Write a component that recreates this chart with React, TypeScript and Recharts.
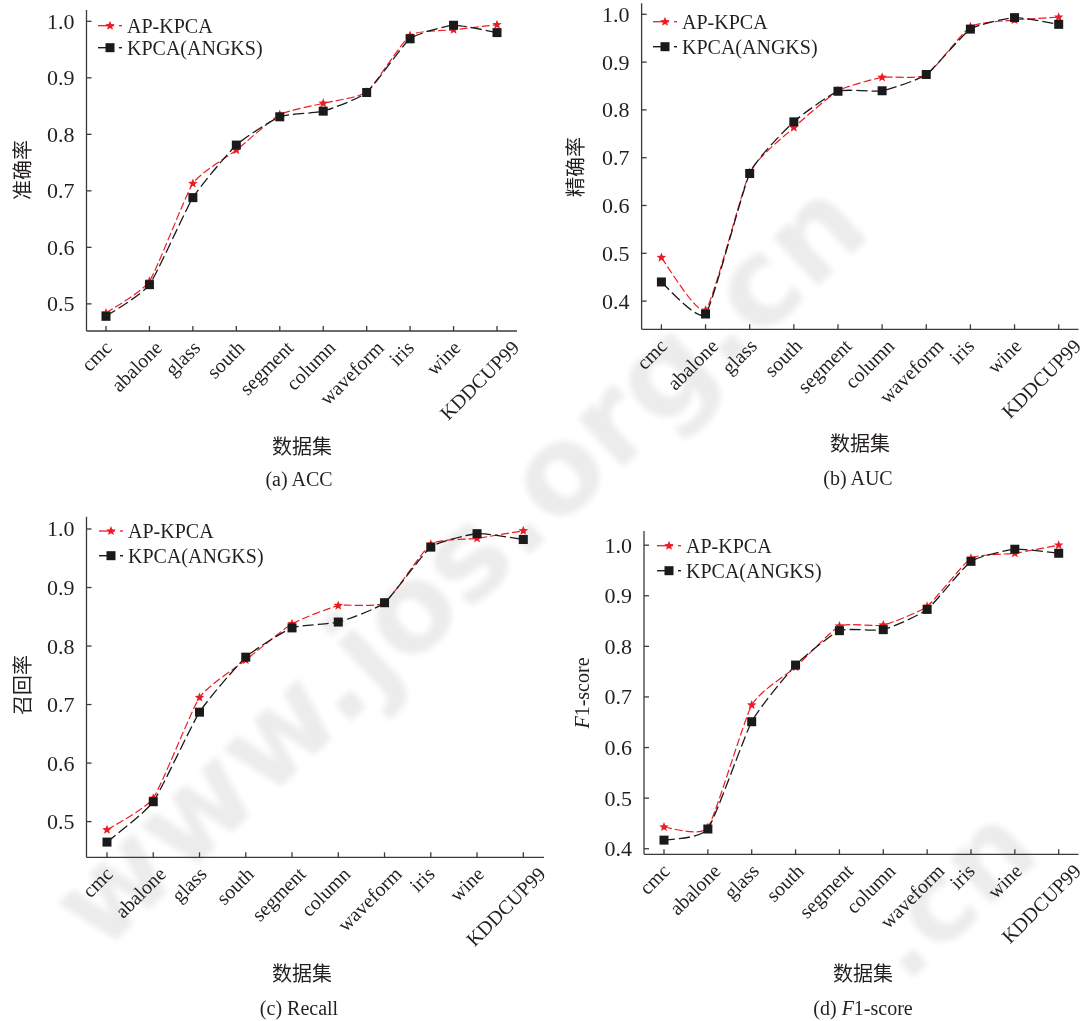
import React from "react";
import { LineChart, Line, XAxis, YAxis } from "recharts";

const datasets = ["cmc", "abalone", "glass", "south", "segment", "column", "waveform", "iris", "wine", "KDDCUP99"];

const accAp = [0.484, 0.54, 0.713, 0.772, 0.835, 0.855, 0.875, 0.975, 0.985, 0.994];
const accKpca = [0.478, 0.534, 0.688, 0.781, 0.831, 0.841, 0.874, 0.969, 0.993, 0.98];
const aucAp = [0.491, 0.381, 0.669, 0.763, 0.84, 0.868, 0.873, 0.974, 0.988, 0.994];
const aucKpca = [0.44, 0.373, 0.667, 0.775, 0.839, 0.84, 0.874, 0.969, 0.993, 0.979];
const recAp = [0.486, 0.54, 0.712, 0.776, 0.838, 0.869, 0.874, 0.974, 0.984, 0.997];
const recKpca = [0.465, 0.534, 0.687, 0.781, 0.831, 0.841, 0.874, 0.969, 0.992, 0.982];
const f1Ap = [0.443, 0.442, 0.684, 0.759, 0.84, 0.842, 0.879, 0.974, 0.984, 1.0];
const f1Kpca = [0.417, 0.439, 0.651, 0.763, 0.831, 0.833, 0.873, 0.968, 0.992, 0.984];

const ticksHigh = [0.5, 0.6, 0.7, 0.8, 0.9, 1.0];
const ticksLow = [0.4, 0.5, 0.6, 0.7, 0.8, 0.9, 1.0];

const seriesNames = ["AP-KPCA", "KPCA(ANGKS)"];
const watermarkParts = ["www.", "jos.", "org.", "cn"];

const RED = "#ed1c24";
const INK = "#231f20";
const AXIS = "#3b3b3b";
const SERIF = "'Liberation Serif', 'Times New Roman', 'Noto Sans CJK SC', serif";
const CJK = "'Noto Sans CJK SC', 'Liberation Serif', serif";
const WM_FONT = "'DejaVu Sans', sans-serif";

// mild catmull-rom smoothing (the original uses a spline connector)
const SMOOTH = 0.5;
const splineCurve = (context: any) => {
  let pts: number[][] = [];
  return {
    areaStart() {},
    areaEnd() {},
    lineStart() {
      pts = [];
    },
    point(x: number, y: number) {
      pts.push([+x, +y]);
    },
    lineEnd() {
      if (!pts.length) return;
      context.moveTo(pts[0][0], pts[0][1]);
      const k = SMOOTH / 6;
      for (let i = 0; i < pts.length - 1; i++) {
        const p0 = pts[i - 1] || pts[i];
        const p1 = pts[i];
        const p2 = pts[i + 1];
        const p3 = pts[i + 2] || p2;
        context.bezierCurveTo(
          p1[0] + (p2[0] - p0[0]) * k,
          p1[1] + (p2[1] - p0[1]) * k,
          p2[0] - (p3[0] - p1[0]) * k,
          p2[1] - (p3[1] - p1[1]) * k,
          p2[0],
          p2[1]
        );
      }
    },
  };
};

let ctx2d: CanvasRenderingContext2D | null = null;
function textWidth(s: string, font: string, fallback: number) {
  if (!ctx2d) ctx2d = document.createElement("canvas").getContext("2d");
  if (!ctx2d) return s.length * fallback;
  ctx2d.font = font;
  return ctx2d.measureText(s).width;
}

function starPoints(cx: number, cy: number, R: number, r: number) {
  const pts: string[] = [];
  for (let i = 0; i < 10; i++) {
    const rad = i % 2 === 0 ? R : r;
    const a = -Math.PI / 2 + (i * Math.PI) / 5;
    pts.push(`${cx + rad * Math.cos(a)},${cy + rad * Math.sin(a)}`);
  }
  return pts.join(" ");
}

const StarDot = (p: any) => {
  if (p.cx == null || p.cy == null) return <g key={p.index} />;
  return <polygon key={p.index} points={starPoints(p.cx, p.cy, 5, 2.2)} fill={RED} stroke="none" />;
};

const SquareDot = (p: any) => {
  if (p.cx == null || p.cy == null) return <g key={p.index} />;
  return <rect key={p.index} x={p.cx - 4.5} y={p.cy - 4.5} width={9} height={9} fill="#1a1a1a" stroke="none" />;
};

const YTick = (p: any) => (
  <g>
    <line x1={p.x} y1={p.y} x2={p.x + 5} y2={p.y} stroke={AXIS} strokeWidth={1.3} />
    <text x={p.x - 12} y={p.y} textAnchor="end" dominantBaseline="central" fontFamily={SERIF} fontSize={22} fill={INK}>
      {Number(p.payload.value).toFixed(1)}
    </text>
  </g>
);

const XTick = (p: any) => {
  const label = String(p.payload.value);
  const bx = p.x - 1 + 0.24 * textWidth(label, '20px "Liberation Serif"', 10);
  const by = p.y + 18;
  return (
    <g>
      <line x1={p.x} y1={p.y} x2={p.x} y2={p.y - 5} stroke={AXIS} strokeWidth={1.3} />
      <text x={bx} y={by} textAnchor="end" fontFamily={SERIF} fontSize={20} fill={INK} transform={`rotate(-45 ${bx} ${by})`}>
        {label}
      </text>
    </g>
  );
};

type PanelProps = {
  left: number;
  top: number;
  width: number;
  height: number;
  plot: { l: number; r: number; t: number; b: number };
  domain: [number, number];
  ticks: number[];
  ap: number[];
  kp: number[];
  pad: { left: number; right: number };
};

function Panel({ left, top, width, height, plot, domain, ticks, ap, kp, pad }: PanelProps) {
  const rows = datasets.map((name, i) => ({ name, ap: ap[i], kp: kp[i] }));
  return (
    <div style={{ position: "absolute", left, top, width, height }}>
      <LineChart
        width={width}
        height={height}
        data={rows}
        margin={{ top: plot.t, right: width - plot.r, bottom: 0, left: 0 }}
      >
        <XAxis
          dataKey="name"
          interval={0}
          height={height - plot.b}
          padding={pad}
          tickLine={false}
          tickSize={0}
          tickMargin={0}
          axisLine={{ stroke: AXIS, strokeWidth: 1.3 }}
          tick={XTick}
        />
        <YAxis
          type="number"
          width={plot.l}
          domain={domain}
          ticks={ticks}
          allowDataOverflow
          tickLine={false}
          tickSize={0}
          tickMargin={0}
          axisLine={{ stroke: AXIS, strokeWidth: 1.3 }}
          tick={YTick}
        />
        <Line
          type={splineCurve as any}
          dataKey="ap"
          stroke={RED}
          strokeWidth={1.2}
          strokeDasharray="8 3"
          dot={StarDot}
          activeDot={false}
          isAnimationActive={false}
        />
        <Line
          type={splineCurve as any}
          dataKey="kp"
          stroke="#1a1a1a"
          strokeWidth={1.3}
          strokeDasharray="11 4"
          dot={SquareDot}
          activeDot={false}
          isAnimationActive={false}
        />
      </LineChart>
    </div>
  );
}

function LegendBox({ x, y1, y2 }: { x: number; y1: number; y2: number }) {
  return (
    <g>
      <line x1={x} y1={y1} x2={x + 16} y2={y1} stroke={RED} strokeWidth={1.3} />
      <line x1={x + 21} y1={y1} x2={x + 24} y2={y1} stroke={RED} strokeWidth={1.3} />
      <polygon points={starPoints(x + 12, y1, 5, 2.2)} fill={RED} />
      <text x={x + 29} y={y1} dominantBaseline="central" fontFamily={SERIF} fontSize={20} fill={INK}>
        {seriesNames[0]}
      </text>
      <line x1={x} y1={y2} x2={x + 16} y2={y2} stroke="#1a1a1a" strokeWidth={1.4} />
      <line x1={x + 21} y1={y2} x2={x + 24} y2={y2} stroke="#1a1a1a" strokeWidth={1.4} />
      <rect x={x + 7.5} y={y2 - 4.5} width={9} height={9} fill="#1a1a1a" />
      <text x={x + 29} y={y2} dominantBaseline="central" fontFamily={SERIF} fontSize={20} fill={INK}>
        {seriesNames[1]}
      </text>
    </g>
  );
}

// faint diagonal watermark, split in pieces that each stay inside the page
function Watermark({ x, y, size, parts }: { x: number; y: number; size: number; parts: string[] }) {
  const ang = (-43 * Math.PI) / 180;
  let along = 0;
  return (
    <g>
      {parts.map((s, i) => {
        const px = x + along * Math.cos(ang);
        const py = y + along * Math.sin(ang);
        along += textWidth(s, `bold ${size}px "DejaVu Sans"`, size * 0.65);
        return (
          <text key={i} x={px} y={py} fontFamily={WM_FONT} fontWeight="bold" fontSize={size} fill="#000" transform={`rotate(-43 ${px} ${py})`}>
            {s}
          </text>
        );
      })}
    </g>
  );
}

const YTitle = ({ x, y, children }: { x: number; y: number; children: React.ReactNode }) => (
  <text x={x} y={y} textAnchor="middle" dominantBaseline="central" fontFamily={CJK} fontSize={20} fill={INK} transform={`rotate(-90 ${x} ${y})`}>
    {children}
  </text>
);

const Caption = ({ x, y, children, cjk }: { x: number; y: number; children: React.ReactNode; cjk?: boolean }) => (
  <text x={x} y={y} textAnchor="middle" dominantBaseline="central" fontFamily={cjk ? CJK : SERIF} fontSize={20} fill={INK}>
    {children}
  </text>
);

export default function App() {
  return (
    <div style={{ position: "absolute", left: 0, top: 0, width: 1089, height: 1021, background: "#fff", overflow: "hidden" }}>
      <svg width={1089} height={1021} style={{ position: "absolute", left: 0, top: 0 }}>
        <defs>
          <filter id="wm" x="-10%" y="-10%" width="120%" height="120%">
            <feGaussianBlur stdDeviation="3" />
          </filter>
        </defs>
        <g filter="url(#wm)" opacity={0.075}>
          <Watermark x={100} y={955} size={122} parts={watermarkParts} />
          <Watermark x={905} y={985} size={112} parts={[".cn"]} />
        </g>
      </svg>

      <Panel left={0} top={0} width={545} height={500} plot={{ l: 86.5, r: 517, t: 10, b: 331 }} domain={[0.452, 1.02]} ticks={ticksHigh} ap={accAp} kp={accKpca} pad={{ left: 19.5, right: 20 }} />
      <Panel left={545} top={0} width={544} height={500} plot={{ l: 96.6, r: 533.5, t: 3.3, b: 329.3 }} domain={[0.341, 1.023]} ticks={ticksLow} ap={aucAp} kp={aucKpca} pad={{ left: 19.8, right: 19.8 }} />
      <Panel left={0} top={500} width={565} height={521} plot={{ l: 86.5, r: 544, t: 16.7, b: 357.3 }} domain={[0.439, 1.021]} ticks={ticksHigh} ap={recAp} kp={recKpca} pad={{ left: 20.5, right: 20.7 }} />
      <Panel left={545} top={500} width={544} height={521} plot={{ l: 99, r: 533.5, t: 31, b: 354.3 }} domain={[0.389, 1.028]} ticks={ticksLow} ap={f1Ap} kp={f1Kpca} pad={{ left: 20, right: 19.8 }} />

      <svg width={1089} height={1021} style={{ position: "absolute", left: 0, top: 0, pointerEvents: "none" }}>
        <LegendBox x={98} y1={25.7} y2={47.7} />
        <LegendBox x={653} y1={21.7} y2={46.7} />
        <LegendBox x={99} y1={531} y2={555.7} />
        <LegendBox x={657} y1={545.7} y2={570.7} />

        <YTitle x={21} y={170}>准确率</YTitle>
        <YTitle x={574.5} y={167}>精确率</YTitle>
        <YTitle x={21} y={685}>召回率</YTitle>
        <text x={581.5} y={693} textAnchor="middle" dominantBaseline="central" fontFamily={SERIF} fontSize={20} fill={INK} transform="rotate(-90 581.5 693)">
          <tspan fontStyle="italic">F</tspan>1-score
        </text>

        <Caption x={302} y={445} cjk>数据集</Caption>
        <Caption x={860} y={442} cjk>数据集</Caption>
        <Caption x={302} y={972} cjk>数据集</Caption>
        <Caption x={863} y={972} cjk>数据集</Caption>

        <Caption x={299} y={479}>(a) ACC</Caption>
        <Caption x={858} y={478}>(b) AUC</Caption>
        <Caption x={299} y={1008}>(c) Recall</Caption>
        <text x={863} y={1008} textAnchor="middle" dominantBaseline="central" fontFamily={SERIF} fontSize={20} fill={INK}>
          (d) <tspan fontStyle="italic">F</tspan>1-score
        </text>
      </svg>
    </div>
  );
}
